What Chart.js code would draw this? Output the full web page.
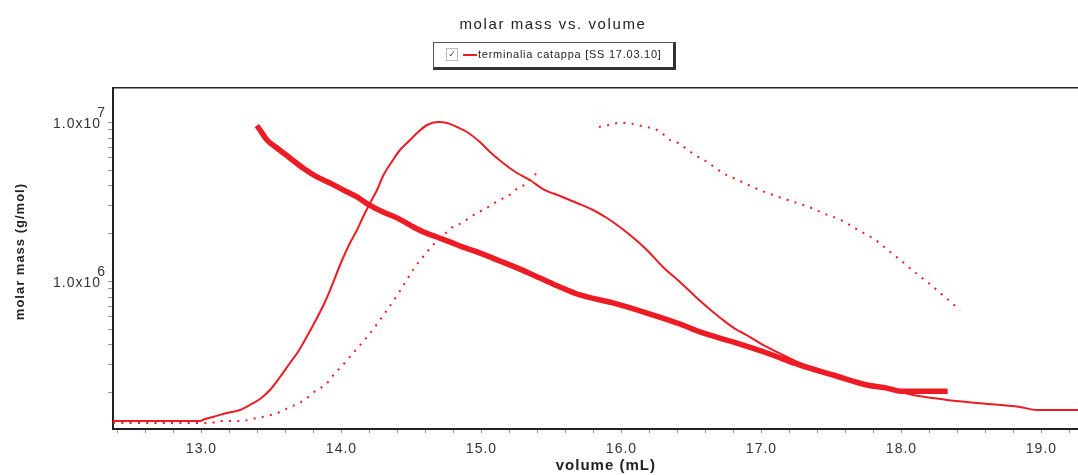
<!DOCTYPE html>
<html>
<head>
<meta charset="utf-8">
<script src="https://cdn.jsdelivr.net/npm/chart.js@4.4.1/dist/chart.umd.min.js"></script>
<style>
html,body{margin:0;padding:0;background:#fff;}
#wrap{position:relative;width:1078px;height:475px;overflow:hidden;}
#c{position:absolute;left:0;top:0;}
#title{position:absolute;left:353px;width:400px;top:15px;text-align:center;font-family:'Liberation Sans',Arial,sans-serif;font-size:15px;line-height:18px;letter-spacing:1.6px;color:#222;}
#legend{position:absolute;left:433px;top:42px;width:239px;height:24px;border-top:1px solid #555;border-left:1px solid #555;border-right:3px solid #333;border-bottom:3px solid #333;background:#fff;}
#chk{position:absolute;left:12px;top:5px;width:10px;height:11px;border:1px solid #bbb;font-family:'DejaVu Sans',sans-serif;font-size:9px;line-height:11px;text-align:center;color:#444;}
#swatch{position:absolute;left:29px;top:11px;width:14px;height:2px;background:#ed1c24;}
#ltext{position:absolute;left:44px;top:5px;font-family:'Liberation Sans',Arial,sans-serif;font-size:11px;line-height:13px;letter-spacing:0.75px;color:#222;white-space:nowrap;}
</style>
</head>
<body>
<div id="wrap">
  <canvas id="c" width="1078" height="475"></canvas>
  <div id="title">molar mass vs. volume</div>
  <div id="legend"><div id="chk">✓</div><div id="swatch"></div><div id="ltext">terminalia catappa [SS 17.03.10]</div></div>
</div>
<script>
// ---- data ----
const mmVol  = [13.395, 13.418, 13.468, 13.539, 13.632, 13.725, 13.825, 13.918, 14.011, 14.111, 14.197, 14.297, 14.397, 14.490, 14.582, 14.682, 14.775, 14.868, 14.968, 15.132, 15.275, 15.418, 15.561, 15.704, 15.939, 16.182, 16.418, 16.561, 16.796, 17.039, 17.275, 17.511, 17.754, 17.896, 17.989, 18.225, 18.330];
const mmMass = [9.6e6, 9.0e6, 7.78e6, 6.93e6, 6.0e6, 5.19e6, 4.56e6, 4.18e6, 3.78e6, 3.41e6, 3.04e6, 2.74e6, 2.52e6, 2.27e6, 2.06e6, 1.91e6, 1.78e6, 1.65e6, 1.54e6, 1.35e6, 1.20e6, 1.055e6, 9.27e5, 8.25e5, 7.35e5, 6.35e5, 5.42e5, 4.83e5, 4.18e5, 3.56e5, 2.99e5, 2.59e5, 2.24e5, 2.14e5, 2.05e5, 2.05e5, 2.05e5];

// solid detector trace (relative signal, 0-100)
const riVol = [12.368, 12.989, 13.025, 13.082, 13.182, 13.275, 13.346, 13.418, 13.489, 13.561, 13.632, 13.689, 13.739, 13.882, 14.011, 14.061, 14.111, 14.154, 14.197, 14.254, 14.297, 14.368, 14.418, 14.490, 14.540, 14.611, 14.689, 14.754, 14.825, 14.897, 14.989, 15.061, 15.154, 15.254, 15.346, 15.439, 15.561, 15.682, 15.796, 15.896, 15.939, 16.061, 16.182, 16.296, 16.418, 16.539, 16.654, 16.725, 16.825, 16.868, 17.039, 17.182, 17.275, 17.511, 17.754, 17.989, 18.082, 18.225, 18.325, 18.539, 18.846, 18.968, 19.261];
const riSig = [2.35, 2.35, 2.93, 3.52, 4.69, 5.57, 7.04, 8.80, 11.44, 15.25, 19.35, 22.58, 26.10, 37.24, 50.15, 54.55, 58.36, 62.17, 65.69, 70.09, 74.20, 78.89, 81.82, 84.75, 86.80, 89.15, 90.03, 89.74, 88.56, 87.10, 84.16, 81.23, 78.01, 75.07, 73.02, 70.38, 68.33, 66.28, 64.22, 61.88, 60.70, 56.89, 52.49, 47.51, 43.11, 38.42, 34.31, 31.96, 29.03, 28.15, 24.05, 21.11, 19.35, 16.13, 13.20, 10.85, 9.97, 9.09, 8.50, 7.62, 6.45, 5.57, 5.57];

// dotted detector trace (relative signal, 0-100), null = gap
const lsVol = [12.368, 12.904, 12.982, 13.068, 13.132, 13.211, 13.289, 13.361, 13.432, 13.496, 13.561, 13.618, 13.682, 13.746, 13.804, 13.861, 13.911, 13.954, 14.004, 14.054, 14.096, 14.146, 14.189, 14.311, 14.418, 14.511, 14.604, 14.654, 14.754, 14.804, 14.861, 14.911, 14.968, 15.025, 15.082, 15.146, 15.211, 15.261, 15.318, 15.361, 15.411, 15.600, 15.839, 15.911, 15.982, 16.039, 16.111, 16.175, 16.239, 16.296, 16.346, 16.404, 16.504, 16.611, 16.725, 16.832, 16.954, 17.082, 17.211, 17.339, 17.454, 17.568, 17.689, 17.804, 17.911, 18.018, 18.111, 18.211, 18.318, 18.418];
const lsSig = [1.76, 1.76, 1.76, 1.76, 2.35, 2.35, 2.35, 2.93, 3.52, 4.11, 4.99, 6.16, 7.33, 8.80, 10.85, 12.32, 14.08, 16.42, 18.48, 20.82, 22.87, 25.22, 27.27, 34.02, 40.47, 46.63, 51.61, 53.96, 57.77, 59.53, 60.41, 61.88, 63.34, 64.52, 65.98, 67.45, 68.91, 70.67, 71.85, 73.90, 75.37, null, 88.56, 89.15, 89.74, 89.74, 89.15, 88.56, 87.98, 86.51, 84.75, 83.87, 80.94, 78.30, 75.07, 73.02, 70.67, 68.62, 66.86, 65.10, 63.05, 61.29, 58.36, 55.72, 52.20, 48.68, 45.45, 42.23, 38.42, 34.90];

// axis ticks
const xTickValues = [12.4, 12.6, 12.8, 13.0, 13.2, 13.4, 13.6, 13.8, 14.0, 14.2, 14.4, 14.6, 14.8, 15.0, 15.2, 15.4, 15.6, 15.8, 16.0, 16.2, 16.4, 16.6, 16.8, 17.0, 17.2, 17.4, 17.6, 17.8, 18.0, 18.2, 18.4, 18.6, 18.8, 19.0, 19.2];
const yTickValues = [2e5, 3e5, 4e5, 5e5, 6e5, 7e5, 8e5, 9e5, 1e6, 2e6, 3e6, 4e6, 5e6, 6e6, 7e6, 8e6, 9e6, 1e7];
const yTickLabels = {1000000: ['6', '1.0x10 '], 10000000: ['7', '1.0x10 ']};

const RED = '#ed1c24';
const pts = (xs, ys) => xs.map((x, i) => ({x: x, y: ys[i]}));

Chart.defaults.font.family = "'Liberation Sans', Arial, sans-serif";

const spacing = {
  id: 'spacing',
  beforeDraw(chart) { chart.ctx.letterSpacing = '1px'; }
};

new Chart(document.getElementById('c'), {
  type: 'line',
  data: {
    datasets: [
      {label: 'molar mass', data: pts(mmVol, mmMass), yAxisID: 'y', borderColor: RED, borderWidth: 5.5, pointRadius: 0, cubicInterpolationMode: 'monotone'},
      {label: 'signal', data: pts(riVol, riSig), yAxisID: 'ySig', borderColor: RED, borderWidth: 2, pointRadius: 0, cubicInterpolationMode: 'monotone'},
      {label: 'ls', data: pts(lsVol, lsSig), yAxisID: 'ySig', borderColor: RED, borderWidth: 2, borderDash: [2, 6.3], pointRadius: 0, cubicInterpolationMode: 'monotone', spanGaps: false}
    ]
  },
  options: {
    responsive: false,
    animation: false,
    events: [],
    layout: {padding: {top: 88, left: 0, right: 0, bottom: 0}},
    plugins: {legend: {display: false}, title: {display: false}, tooltip: {enabled: false}},
    scales: {
      x: {
        type: 'linear', position: 'bottom', min: 12.368, max: 19.261,
        afterBuildTicks: s => { s.ticks = xTickValues.map(v => ({value: v})); },
        afterFit: s => { s.height = 46; },
        ticks: {
          autoSkip: false, maxRotation: 0, minRotation: 0, padding: 8, color: '#333', font: {size: 14},
          callback: v => (Math.abs(v - Math.round(v)) < 1e-6 ? Number(v).toFixed(1) : '')
        },
        grid: {drawOnChartArea: false, drawTicks: true, tickLength: 4, color: '#999', lineWidth: 1},
        border: {display: true, color: '#222', width: 2},
        title: {display: true, text: '    volume (mL)', color: '#222', font: {size: 15, weight: 'bold'}, padding: {top: 0, bottom: 0}}
      },
      xTop: {
        type: 'linear', position: 'top', min: 12.368, max: 19.261,
        afterFit: s => { s.height = 0; },
        ticks: {display: false},
        grid: {display: true, drawOnChartArea: false, drawTicks: false},
        border: {display: true, color: '#222', width: 1.5}
      },
      y: {
        type: 'logarithmic', position: 'left', min: 118470, max: 1.653e7,
        afterBuildTicks: s => { s.ticks = yTickValues.map(v => ({value: v})); },
        afterFit: s => { s.width = 113; },
        ticks: {
          autoSkip: false, padding: 2, color: '#333', labelOffset: -4,
          font: {size: 14, lineHeight: 0.8},
          callback: v => yTickLabels[Math.round(v)] || ''
        },
        grid: {drawOnChartArea: false, drawTicks: true, tickLength: 5, color: '#999', lineWidth: 1},
        border: {display: true, color: '#222', width: 2},
        title: {display: true, text: '   molar mass (g/mol)', color: '#222', font: {size: 13, weight: 'bold'}, padding: {top: 13, bottom: 0}}
      },
      ySig: {type: 'linear', display: false, min: 0, max: 100}
    }
  },
  plugins: [spacing]
});
</script>
</body>
</html>
